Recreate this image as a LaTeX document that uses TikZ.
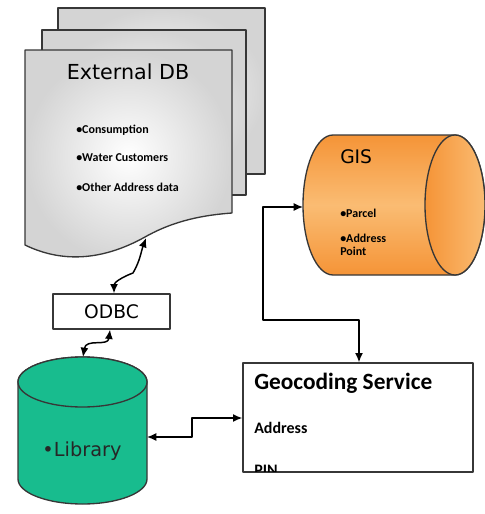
\documentclass[tikz,border=0pt]{standalone}
\usepackage{fontspec}
\setmainfont{Carlito}
\newfontfamily\dvs{DejaVu Sans}
\usetikzlibrary{arrows.meta}
\definecolor{pageedge}{RGB}{55,55,55}
\definecolor{pagegray}{RGB}{212,212,212}
\definecolor{gisdark}{RGB}{245,148,55}
\definecolor{gislight}{RGB}{250,188,115}
\definecolor{libteal}{RGB}{24,188,142}
\begin{document}
\begin{tikzpicture}[x=0.75pt,y=-0.75pt,line join=round,
  outl/.style={draw=pageedge,line width=1pt},
  tipx/.tip={Latex[length=7pt,width=6pt]},
  link/.style={draw=black,line width=1.1pt,tipx-tipx},
  bul/.style={font=\fontsize{9}{10}\selectfont\bfseries,anchor=west,inner sep=0pt},
  big/.style={font=\dvs\fontsize{14}{16}\selectfont,inner sep=0pt}]
\useasboundingbox (0,0) rectangle (485,514);
% ---- External DB pages
\path[outl,shade,inner color=white,outer color=pagegray] (58,8) rectangle (265,174);
\path[outl,shade,inner color=white,outer color=pagegray] (42,30) rectangle (246,195);
\path[outl,shade,inner color=white,outer color=pagegray]
  (25,50) -- (232,50) -- (232,213)
  .. controls (205,215) and (175,220) .. (145,237)
  .. controls (100,262) and (60,262) .. (25,245) -- cycle;
\node[big,font=\dvs\fontsize{15.5}{18}\selectfont] (extdb) at (128,72) {External DB};
\node[bul] (b1) at (76,130) {•Consumption};
\node[bul] (b2) at (76,158) {•Water Customers};
\node[bul] (b3) at (76,187) {•Other Address data};
\coordinate (docB) at (146,238);
% ---- ODBC
\node[outl,fill=white,minimum width=117*0.75pt,minimum height=35*0.75pt,inner sep=0pt,
  font=\dvs\fontsize{14}{16}\selectfont] (odbc) at (111.5,311.5) {ODBC};
% ---- Library cylinder
\path[outl,fill=libteal] (18,382) -- (18,479)
  arc[start angle=180,end angle=0,x radius=64.5,y radius=25] -- (147,382)
  arc[start angle=0,end angle=-180,x radius=64.5,y radius=25] -- cycle;
\path[outl,fill=libteal] (82.5,382) ellipse[x radius=64.5,y radius=25];
\node[big,font=\dvs\fontsize{14.5}{16}\selectfont,text=black!85] (lib) at (82,451) {•Library};
\coordinate (libT) at (83,357);
\coordinate (libR) at (147,437);
% ---- GIS cylinder
\path[outl,shade,top color=gisdark,bottom color=gisdark,middle color=gislight]
  (455,135) -- (333,135)
  arc[start angle=270,end angle=90,x radius=30,y radius=70] -- (455,275)
  arc[start angle=90,end angle=-90,x radius=30,y radius=70] -- cycle;
\path[outl,shade,left color=gisdark,right color=gislight] (455,205) ellipse[x radius=30,y radius=70];
\node[big,anchor=west] (gis) at (340,157) {GIS};
\node[bul] (g1) at (340,213) {•Parcel};
\node[bul,align=left] (g2) at (340,245) {•Address\\Point};
\coordinate (gisL) at (303,207);
% ---- Geocoding service
\node[outl,fill=white,minimum width=230*0.75pt,minimum height=109*0.75pt,inner sep=0pt] (geo) at (358,417.5) {};
\node[font=\fontsize{17.5}{20}\selectfont\bfseries,anchor=west,inner sep=0pt] (geot) at (254,383) {Geocoding Service};
\node[font=\fontsize{12}{14}\selectfont\bfseries,anchor=west,inner sep=0pt] (addr) at (254,428) {Address};
\begin{scope}
  \clip (244,364) rectangle (472,471);
  \node[font=\fontsize{12}{14}\selectfont\bfseries,anchor=west,inner sep=0pt] (pin) at (254,470) {PIN};
\end{scope}
% ---- connectors
\draw[link] (odbc.north -| 114,0) to[out=90,in=200] (133,273) to[out=60,in=-110] (docB);
\draw[link] (odbc.south -| 110,0) .. controls (108,347) and (86,338) .. (libT);
\draw[link] (libR) -- (192,437) -- (192,418) -- (geo.west |- 0,418);
\draw[link] (geo.north -| 359,0) -- (359,320) -- (263,320) -- (263,207) -- (gisL);
\end{tikzpicture}
\end{document}
